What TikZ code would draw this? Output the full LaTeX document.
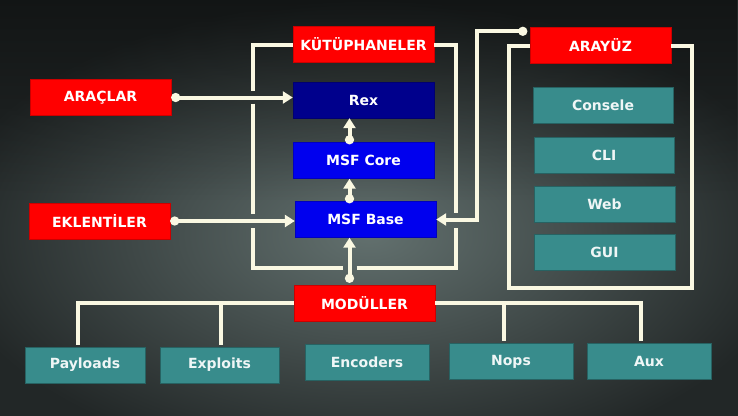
\documentclass[tikz,border=0pt]{standalone}
\usepackage{fontspec}
\setmainfont{DejaVu Sans}
\usetikzlibrary{arrows.meta, calc, fadings}
\definecolor{cCream}{RGB}{250,248,226}
\definecolor{cRed}{RGB}{255,0,0}
\definecolor{cNavy}{RGB}{0,0,140}
\definecolor{cBlue}{RGB}{0,0,238}
\definecolor{cTeal}{RGB}{56,140,140}
\definecolor{cBgIn}{RGB}{98,112,110}
\definecolor{cBgOut}{RGB}{34,39,39}
\tikzfading[name=topdark, top color=transparent!0, bottom color=transparent!100]
\tikzset{
	box/.style    ={rectangle, minimum width=141pt, minimum height=36pt, inner sep=0pt, text=white, font=\fontsize{14}{16}\selectfont\bfseries},
	redbox/.style ={box, fill=cRed, draw=cRed!80!black},
	navybox/.style={box, fill=cNavy, draw=cNavy!80!black},
	bluebox/.style={box, fill=cBlue, draw=cBlue!80!black},
	tealbox/.style={box, fill=cTeal, draw=cTeal!70!black, text=white!92!cTeal},
	wire/.style   ={draw=cCream, line width=4pt, line join=miter},
	flow/.style   ={wire, {Circle[length=9pt]}-{Triangle[length=10pt, width=12pt]}},
}
\begin{document}
\begin{tikzpicture}[x=1pt, y=-1pt]
	\useasboundingbox (0,0) rectangle (738,415);
	\shade[inner color=cBgIn, outer color=cBgOut] (-60,0) rectangle (798,470);
	\fill[black, opacity=0.45, path fading=topdark] (0,0) rectangle (738,200);

	% library stack
	\node[redbox]  (kut)  at (363.5,44.5)  {KÜTÜPHANELER};
	\node[navybox] (rex)  at (363.5,100)   {Rex};
	\node[bluebox] (core) at (363.5,160.5) {MSF Core};
	\node[bluebox] (base) at (365.5,219.5) {MSF Base};
	\node[redbox]  (mod)  at (364.5,303)   {MODÜLLER};
	\node[redbox]  (ara)  at (100.5,97.5)  {ARAÇLAR};
	\node[redbox]  (ekl)  at (99.5,221)    {EKLENTİLER};

	% interfaces
	\node[redbox]  (ui)   at (600.5,45.5)  {ARAYÜZ};
	\node[tealbox, minimum width=140pt] (consele) at (603,105) {Consele};
	\node[tealbox, minimum width=140pt] (cli) at (604,155) {CLI};
	\node[tealbox] (web)  at (604.5,204)   {Web};
	\node[tealbox] (gui)  at (604.5,252)   {GUI};

	% modules
	\node[tealbox, minimum width=120pt] (pay)  at (85,365)    {Payloads};
	\node[tealbox, minimum width=119pt] (expl) at (219.5,365) {Exploits};
	\node[tealbox, minimum width=124pt] (enc)  at (367,362.5) {Encoders};
	\node[tealbox, minimum width=124pt] (nops) at (511,361.5) {Nops};
	\node[tealbox, minimum width=124pt] (aux)  at (649,361.5) {Aux};

	% loop round the libraries
	\coordinate (libNW) at ($(kut.west)+(-40,0)$);
	\coordinate (libNE) at ($(kut.east)+(22,0)$);
	\coordinate (libSW) at (libNW |- 0,268);
	\coordinate (libSE) at (libNE |- 0,268);
	\coordinate (modup) at ($(mod.north)+(-15,-2)$);
	\draw[wire] (kut.west) -- (libNW) -- ($(libNW |- ara.east)+(0,-7)$);
	\draw[wire] ($(libNW |- ara.east)+(0,6)$) -- ($(libNW |- ekl.east)+(0,-7)$);
	\draw[wire] ($(libNW |- ekl.east)+(0,7)$) -- (libSW) -- ($(libSW -| modup)+(-7,0)$);
	\draw[wire] ($(libSW -| modup)+(7,0)$) -- (libSE) -- ($(libSE |- base.east)+(0,8)$);
	\draw[wire] ($(libNE |- base.east)+(0,-7)$) -- (libNE) -- (kut.east);

	% frame round the interfaces
	\draw[wire] (ui.west) -| ($(gui.south west)+(-25,18)$) -| ($(ui.east)+(21,0)$) -- (ui.east);

	% arrows
	\draw[flow] (ara.east) -- (ara.east -| rex.west);
	\draw[flow] (ekl.east) -- (ekl.east -| base.west);
	\draw[flow] ($(core.north)+(-14,2)$) -- ($(rex.south)+(-14,0)$);
	\draw[flow] ($(base.north)+(-16,2)$) -- ($(core.south)+(-14,0)$);
	\draw[flow] (modup) -- (modup |- base.south);
	\coordinate (uidot) at ($(ui.north west)+(-2.5,4)$);
	\draw[flow] (uidot) -| ($(base.east)+(41,0)$) -- (base.east);

	% module tree
	\draw[wire] (mod.west) -| ($(pay.north)+(-7,-2)$);
	\draw[wire] ($(mod.west -| expl.north)+(1,0)$) -- ($(expl.north)+(1,-2)$);
	\draw[wire] (mod.east) -| ($(aux.north)+(-8,-2)$);
	\draw[wire] ($(mod.east -| nops.north)+(-7,0)$) -- ($(nops.north)+(-7,-2)$);
\end{tikzpicture}
\end{document}
